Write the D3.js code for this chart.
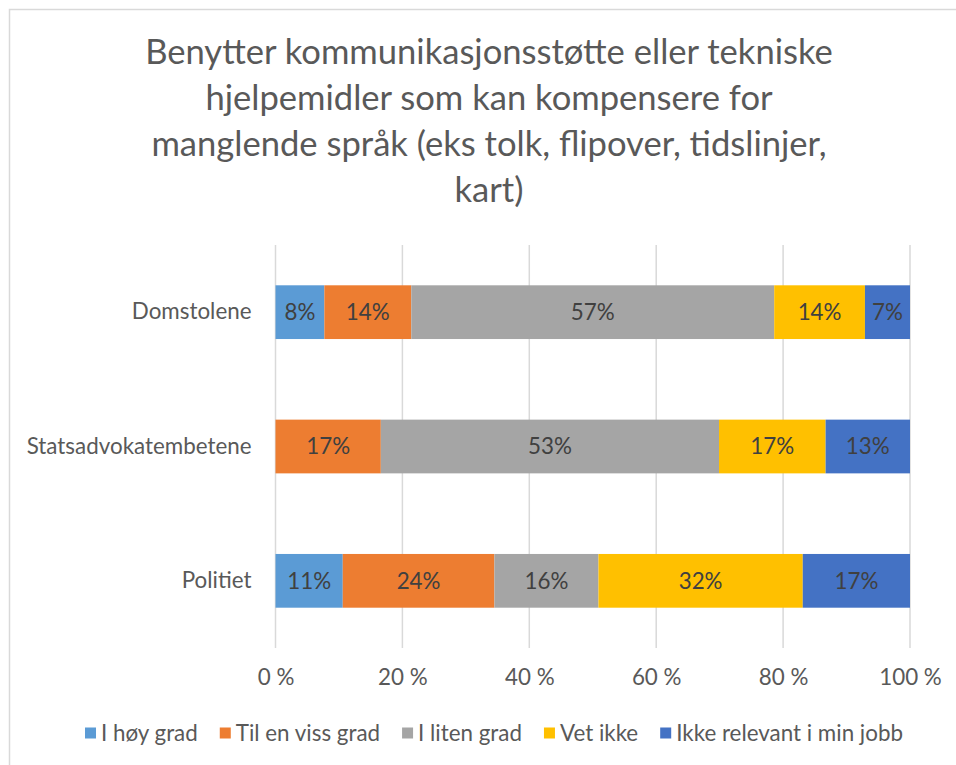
<!DOCTYPE html>
<html>
<head>
<meta charset="utf-8">
<script src="https://cdn.jsdelivr.net/npm/d3@7"></script>
<style>
  html, body { margin: 0; padding: 0; background: #fff; }
  svg { display: block; }
  text { font-family: Lato, "Open Sans", sans-serif; }
</style>
</head>
<body>
<svg id="chart" width="956" height="765"></svg>
<script>
// ---- Data ----
const titleLines = [
  "Benytter kommunikasjonsstøtte eller tekniske",
  "hjelpemidler som kan kompensere for",
  "manglende språk (eks tolk, flipover, tidslinjer,",
  "kart)"
];
const categories = ["Domstolene", "Statsadvokatembetene", "Politiet"];
const seriesNames = ["I høy grad", "Til en viss grad", "I liten grad", "Vet ikke", "Ikke relevant i min jobb"];
const seriesColors = ["#5B9BD5", "#ED7D31", "#A5A5A5", "#FFC000", "#4472C4"];
const iHoyGrad      = [7.7, 0,    10.6];
const tilEnVissGrad = [13.7, 16.6, 23.9];
const iLitenGrad    = [57.2, 53.3, 16.4];
const vetIkke       = [14.3, 16.8, 32.2];
const ikkeRelevant  = [7.1, 13.3, 16.9];
const tickValues = [0, 20, 40, 60, 80, 100];
const tickLabels = ["0 %", "20 %", "40 %", "60 %", "80 %", "100 %"];

const seriesValues = [iHoyGrad, tilEnVissGrad, iLitenGrad, vetIkke, ikkeRelevant];

// ---- Setup ----
const svg = d3.select("#chart");
const textColor = "#595959";
const labelColor = "#404040";

// outer border (chart area extends beyond the picture on right/bottom)
svg.append("rect")
  .attr("x", 9.5).attr("y", 9.5)
  .attr("width", 1000).attr("height", 1000)
  .attr("fill", "none").attr("stroke", "#d9d9d9").attr("stroke-width", 1.5);

function fitSize(txt, target, base) {
  const t = svg.append("text").attr("font-size", base).text(txt);
  const w = t.node().getComputedTextLength();
  t.remove();
  return base * target / w;
}

// ---- Title ----
const titleSize = fitSize(titleLines[0], 688, 30);
const titleG = svg.append("g");
titleLines.forEach((line, i) => {
  titleG.append("text")
    .attr("x", 489)
    .attr("y", 64 + i * 46)
    .attr("text-anchor", "middle")
    .attr("font-size", titleSize)
    .attr("fill", textColor)
    .text(line);
});

// ---- Scales ----
const x = d3.scaleLinear().domain([0, 100]).range([275.5, 910]);
const y = d3.scaleBand().domain(categories).range([245, 648]).paddingInner(0.6).paddingOuter(0.3);

// gridlines
svg.append("g")
  .selectAll("line")
  .data(tickValues)
  .join("line")
  .attr("x1", d => x(d)).attr("x2", d => x(d))
  .attr("y1", 245).attr("y2", 648)
  .attr("stroke", "#d9d9d9").attr("stroke-width", 1.5);

// stacked data
const rows = categories.map((c, i) => {
  const r = { category: c };
  seriesNames.forEach((s, j) => { r[s] = seriesValues[j][i]; });
  return r;
});
const stacked = d3.stack().keys(seriesNames)(rows);

const labelSize = fitSize("Statsadvokatembetene", 225, 18);

const layers = svg.append("g").selectAll("g")
  .data(stacked)
  .join("g")
  .attr("fill", (d, i) => seriesColors[i]);

layers.selectAll("rect")
  .data(d => d.filter(p => p[1] - p[0] > 0))
  .join("rect")
  .attr("x", d => x(d[0]))
  .attr("width", d => x(d[1]) - x(d[0]))
  .attr("y", d => y(d.data.category))
  .attr("height", y.bandwidth());

layers.selectAll("text")
  .data(d => d.filter(p => p[1] - p[0] > 0))
  .join("text")
  .attr("x", d => (x(d[0]) + x(d[1])) / 2)
  .attr("y", d => y(d.data.category) + y.bandwidth() / 2)
  .attr("dy", "0.35em")
  .attr("text-anchor", "middle")
  .attr("font-size", labelSize)
  .attr("fill", labelColor)
  .text(d => Math.round(d[1] - d[0]) + "%");

// ---- Category axis ----
const yAxis = svg.append("g")
  .attr("transform", `translate(${x(0) - 1},0)`)
  .call(d3.axisLeft(y).tickSize(0).tickPadding(23));
yAxis.select(".domain").remove();
yAxis.selectAll("text")
  .attr("font-family", "Lato, 'Open Sans', sans-serif")
  .attr("font-size", labelSize)
  .attr("fill", textColor);

// ---- Value axis ----
const xAxis = svg.append("g")
  .attr("transform", `translate(0,662)`)
  .call(d3.axisBottom(x).tickValues(tickValues).tickSize(0).tickPadding(7)
    .tickFormat((d, i) => tickLabels[i]));
xAxis.select(".domain").remove();
xAxis.selectAll("text")
  .attr("font-family", "Lato, 'Open Sans', sans-serif")
  .attr("font-size", labelSize)
  .attr("fill", textColor);

// ---- Legend ----
const legendG = svg.append("g");
const sq = 11, gapSqText = 5, gapItems = 22;
const items = seriesNames.map((s, i) => {
  const t = legendG.append("text")
    .attr("font-size", labelSize)
    .attr("fill", textColor)
    .text(s);
  return { t, w: t.node().getComputedTextLength(), color: seriesColors[i] };
});
const total = d3.sum(items, d => sq + gapSqText + d.w) + gapItems * (items.length - 1);
let cx = 494 - total / 2;
const legendY = 733;
items.forEach(it => {
  legendG.append("rect")
    .attr("x", cx).attr("y", legendY - sq / 2)
    .attr("width", sq).attr("height", sq)
    .attr("fill", it.color);
  it.t.attr("x", cx + sq + gapSqText).attr("y", legendY).attr("dy", "0.35em");
  cx += sq + gapSqText + it.w + gapItems;
});
</script>
</body>
</html>
